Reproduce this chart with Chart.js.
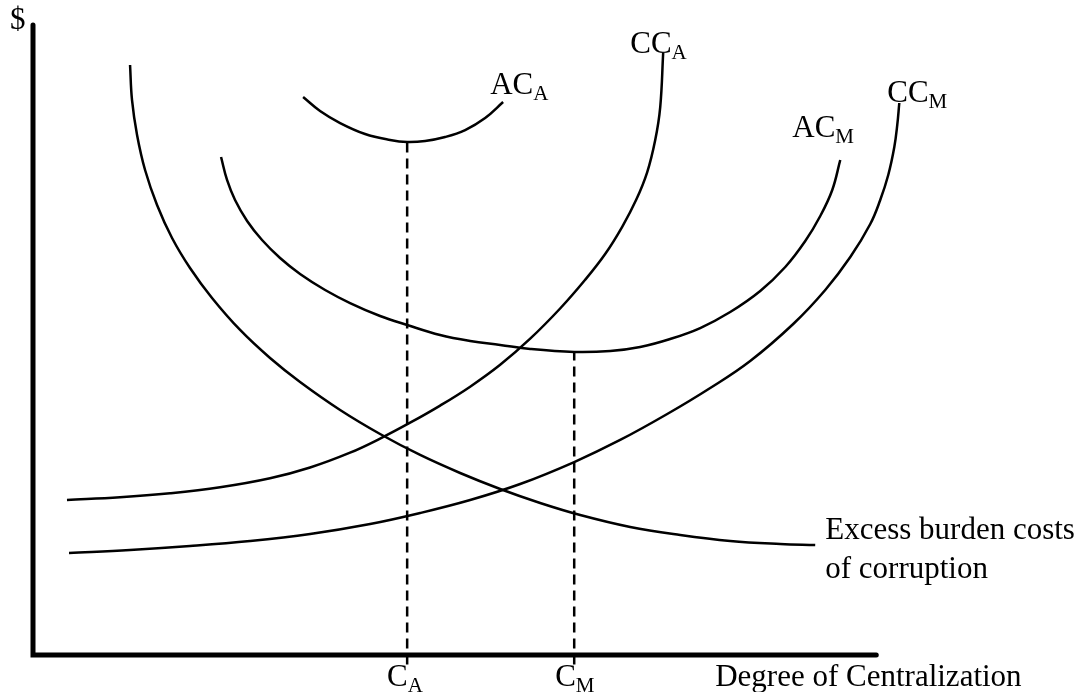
<!DOCTYPE html>
<html>
<head>
<meta charset="utf-8">
<script src="https://cdn.jsdelivr.net/npm/chart.js@4/dist/chart.umd.min.js"></script>
<style>
  body { margin: 0; background: #fff; }
</style>
</head>
<body>
<canvas id="chart" width="1092" height="692"></canvas>
<script>
// curves (x = degree of centralization, y = $)
const excessX = [11.51, 11.74, 12.34, 13.29, 14.71, 16.49, 18.62, 21.23, 24.56, 28.11, 31.67, 36.42, 41.16, 45.91, 50.65, 55.40, 60.14, 64.89, 70.82, 76.75, 82.68, 88.61, 92.76];
const excessY = [93.65, 88.10, 82.54, 76.98, 71.43, 66.19, 61.43, 56.67, 51.59, 47.14, 43.33, 38.89, 35.08, 31.75, 28.89, 26.35, 24.13, 22.22, 20.32, 19.05, 18.10, 17.62, 17.46];

const acAX = [32.03, 34.04, 36.42, 39.38, 42.35, 44.37, 46.50, 48.87, 51.25, 53.62, 55.75];
const acAY = [88.57, 86.35, 84.44, 82.70, 81.75, 81.43, 81.59, 82.22, 83.33, 85.24, 87.78];

const acMX = [22.30, 23.01, 23.96, 25.39, 27.16, 29.30, 31.67, 34.64, 37.60, 41.16, 44.37, 48.28, 51.84, 55.40, 58.96, 64.18, 68.45, 72.00, 75.56, 79.12, 82.68, 86.24, 89.21, 91.58, 93.36, 94.78, 95.73];
const acMY = [79.05, 75.40, 72.22, 68.89, 65.87, 63.02, 60.48, 57.94, 55.87, 53.81, 52.38, 50.79, 49.84, 49.21, 48.57, 48.10, 48.25, 48.89, 50.16, 51.90, 54.44, 57.78, 61.59, 65.71, 69.68, 73.81, 78.57];

const ccAX = [4.03, 10.32, 16.25, 22.18, 28.11, 32.86, 37.60, 41.16, 44.72, 48.28, 51.84, 55.40, 58.96, 62.51, 65.48, 67.85, 69.87, 71.53, 72.83, 73.78, 74.38, 74.73];
const ccAY = [24.60, 25.03, 25.67, 26.62, 28.05, 29.76, 32.11, 34.35, 36.87, 39.59, 42.59, 46.06, 50.21, 55.00, 59.56, 63.65, 67.97, 72.25, 76.62, 81.70, 86.98, 95.56];

const ccMX = [4.27, 11.51, 18.62, 25.74, 32.86, 39.98, 45.91, 51.84, 57.77, 64.18, 69.63, 75.21, 80.31, 85.05, 90.15, 93.95, 96.92, 99.29, 100.47, 101.42, 102.14, 102.49, 102.73];
const ccMY = [16.19, 16.67, 17.30, 18.10, 19.21, 20.79, 22.54, 24.60, 27.14, 30.63, 34.13, 38.25, 42.38, 46.67, 52.54, 57.94, 63.17, 68.41, 72.22, 76.19, 80.63, 84.13, 87.62];

// optimum points (dashed drop lines)
const optX = [44.37, 64.18];
const optY = [81.43, 48.10];
const optNames = ["A", "M"];

// axis lengths in data units
const xAxisEnd = 100;
const yAxisEnd = 100;

const FONT = "'Liberation Serif', 'Times New Roman', serif";

function pts(xs, ys) {
  return xs.map((x, i) => ({ x: x, y: ys[i] }));
}

function curve(xs, ys) {
  return {
    data: pts(xs, ys),
    borderColor: "#000",
    borderWidth: 2.5,
    pointRadius: 0,
    fill: false,
    tension: 0.4,
    clip: false,
  };
}

function dropLine(i) {
  return {
    data: [{ x: optX[i], y: -1.5 }, { x: optX[i], y: optY[i] }],
    borderColor: "#000",
    borderWidth: 2.5,
    borderDash: [10, 6],
    pointRadius: 0,
    fill: false,
    clip: false,
  };
}

// draws "AC" + subscript "A" etc. at a data position
function subText(ctx, chart, main, sub, xv, yv) {
  const px = chart.scales.x.getPixelForValue(xv);
  const py = chart.scales.y.getPixelForValue(yv);
  ctx.font = "31px " + FONT;
  ctx.fillText(main, px, py);
  if (sub) {
    const w = ctx.measureText(main).width;
    ctx.font = "21px " + FONT;
    ctx.fillText(sub, px + w, py + 6);
  }
}

// the two thick axes, drawn through the scales
const axesPlugin = {
  id: "axes",
  beforeDatasetsDraw(chart) {
    const ctx = chart.ctx;
    const x = chart.scales.x;
    const y = chart.scales.y;
    ctx.save();
    ctx.strokeStyle = "#000";
    ctx.lineWidth = 5;
    ctx.lineCap = "round";
    ctx.beginPath();
    ctx.moveTo(x.getPixelForValue(0), y.getPixelForValue(yAxisEnd));
    ctx.lineTo(x.getPixelForValue(0), y.getPixelForValue(0));
    ctx.lineTo(x.getPixelForValue(xAxisEnd), y.getPixelForValue(0));
    ctx.stroke();
    ctx.restore();
  },
};

const labelsPlugin = {
  id: "labels",
  afterDraw(chart) {
    const ctx = chart.ctx;
    ctx.save();
    ctx.fillStyle = "#000";
    ctx.textBaseline = "alphabetic";
    ctx.textAlign = "left";
    subText(ctx, chart, "$", "", -2.73, 99.37);
    subText(ctx, chart, "AC", "A", 54.21, 89.05);
    subText(ctx, chart, "CC", "A", 70.82, 95.56);
    subText(ctx, chart, "AC", "M", 90.04, 82.22);
    subText(ctx, chart, "CC", "M", 101.3, 87.78);
    subText(ctx, chart, "Excess burden costs", "", 93.95, 18.41);
    subText(ctx, chart, "of corruption", "", 93.95, 12.22);
    subText(ctx, chart, "C", optNames[0], optX[0] - 2.38, -4.92);
    subText(ctx, chart, "C", optNames[1], optX[1] - 2.26, -4.92);
    subText(ctx, chart, "Degree of Centralization", "", 80.9, -4.92);
    ctx.restore();
  },
};

function axisOpts(max) {
  return {
    type: "linear",
    min: 0,
    max: max,
    grid: { display: false, drawTicks: false },
    ticks: { display: false },
    border: { display: false },
  };
}

new Chart(document.getElementById("chart"), {
  type: "line",
  data: {
    datasets: [
      curve(excessX, excessY),
      curve(acAX, acAY),
      curve(acMX, acMY),
      curve(ccAX, ccAY),
      curve(ccMX, ccMY),
      dropLine(0),
      dropLine(1),
    ],
  },
  options: {
    responsive: false,
    animation: false,
    layout: { padding: { left: 33, right: 182, top: 25, bottom: 37 } },
    scales: { x: axisOpts(104), y: axisOpts(100) },
    plugins: { legend: { display: false }, tooltip: { enabled: false } },
  },
  plugins: [axesPlugin, labelsPlugin],
});
</script>
</body>
</html>
